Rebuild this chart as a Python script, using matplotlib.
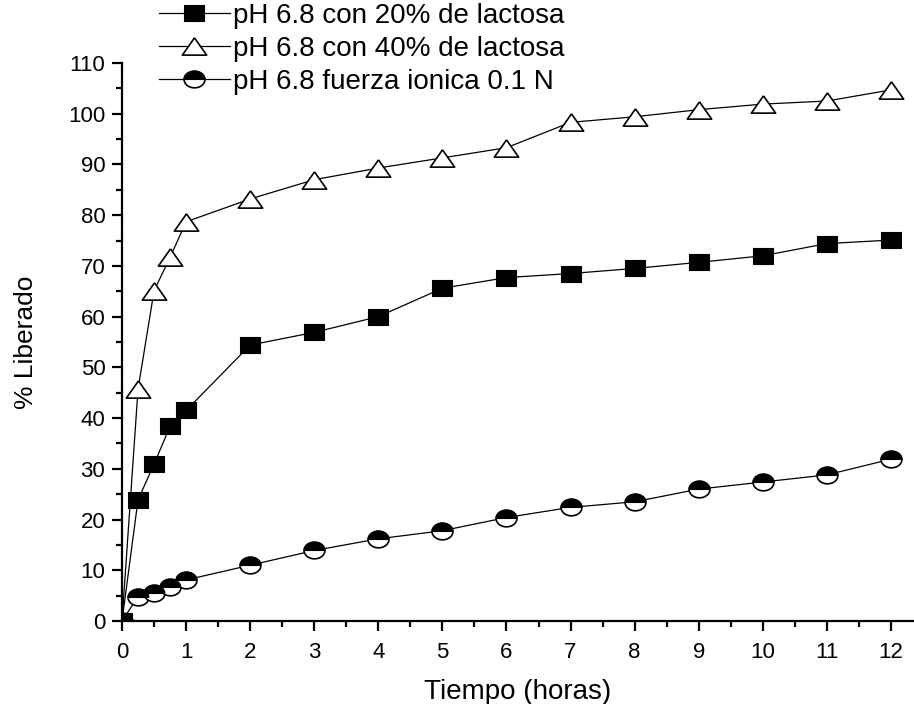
import numpy as np
import matplotlib
matplotlib.use('Agg')
import matplotlib.pyplot as plt
from matplotlib.ticker import MultipleLocator

plt.rcParams['font.family'] = ['Liberation Sans', 'DejaVu Sans']

tiempo = [0, 0.25, 0.5, 0.75, 1, 2, 3, 4, 5, 6, 7, 8, 9, 10, 11, 12]
lactosa20 = [0, 23.9, 30.9, 38.4, 41.5, 54.4, 56.9, 60.0, 65.6, 67.7, 68.5, 69.5, 70.7, 72.0, 74.4, 75.1]
lactosa40 = [0, 45.7, 65.1, 71.7, 78.7, 83.2, 87.0, 89.3, 91.3, 93.3, 98.3, 99.4, 100.8, 101.9, 102.5, 104.7]
fuerza = [0, 4.8, 5.5, 6.8, 8.1, 11.0, 13.9, 16.2, 17.8, 20.4, 22.4, 23.5, 26.0, 27.4, 28.8, 31.9]
etiquetas = ['pH 6.8 con 20% de lactosa',
             'pH 6.8 con 40% de lactosa',
             'pH 6.8 fuerza ionica 0.1 N']

# marcadores algo estirados en horizontal, como en la figura original
cuadro = [(-1, -0.8), (1, -0.8), (1, 0.8), (-1, 0.8), (-1, -0.8)]
triang = [(0, 0.71), (-1, -0.71), (1, -0.71), (0, 0.71)]
th = np.linspace(0, 2 * np.pi, 61)
elipse = list(zip(np.cos(th), 0.8 * np.sin(th)))
th2 = np.linspace(0, np.pi, 31)
media = list(zip(np.cos(th2), 0.8 * np.sin(th2))) + [(np.cos(th2[0]), 0.0)]

fig = plt.figure(figsize=(9.14, 7.04), dpi=100)
ax = fig.add_axes([0.1335, 0.1179, 0.8665, 0.7926])

l1, = ax.plot(tiempo, lactosa20, color='black', lw=0.9, marker=cuadro, ms=14,
              mfc='black', mec='black', mew=0.8)
l2, = ax.plot(tiempo, lactosa40, color='black', lw=0.9, marker=triang, ms=17.5,
              mfc='white', mec='black', mew=1.2)
l3, = ax.plot(tiempo, fuerza, color='black', lw=0.9, marker=elipse, ms=15,
              mfc='white', mec='black', mew=1.2)
l3b, = ax.plot(tiempo, fuerza, ls='none', marker=media, ms=15,
               mfc='black', mec='black', mew=0.8)

ax.set_xlim(0, 12.36)
ax.set_ylim(0, 110)
ax.xaxis.set_major_locator(MultipleLocator(1))
ax.xaxis.set_minor_locator(MultipleLocator(0.5))
ax.yaxis.set_major_locator(MultipleLocator(10))
ax.yaxis.set_minor_locator(MultipleLocator(5))

ax.spines['top'].set_visible(False)
ax.spines['right'].set_visible(False)
ax.spines['left'].set_linewidth(1.6)
ax.spines['bottom'].set_linewidth(1.6)
ax.tick_params(which='major', direction='out', length=7, width=1.6, labelsize=16)
ax.tick_params(axis='x', which='major', pad=8)
ax.tick_params(axis='y', which='major', pad=5)
ax.tick_params(which='minor', direction='out', length=4, width=1.6)

ax.set_xlabel('Tiempo (horas)', fontsize=20, labelpad=12)
ax.set_ylabel('% Liberado', fontsize=19, labelpad=22)

fig.legend([l1, l2, (l3, l3b)], etiquetas, loc='upper left',
           bbox_to_anchor=(0.174, 0.996), frameon=False, fontsize=20,
           handlelength=2.55, handletextpad=0.1, labelspacing=0.25,
           borderpad=0.0, borderaxespad=0.0)

fig.savefig('out.png', dpi=100)
